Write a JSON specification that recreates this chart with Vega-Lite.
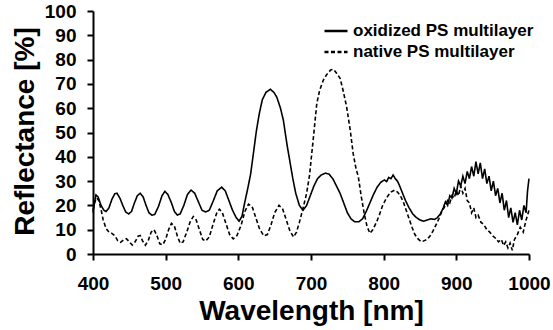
{
  "$schema": "https://vega.github.io/schema/vega-lite/v6.json",
  "width": 436,
  "height": 243,
  "autosize": "none",
  "padding": {"left": 93, "top": 11, "right": 24, "bottom": 76},
  "background": "white",
  "config": {
    "view": {"stroke": null},
    "font": "Liberation Sans",
    "axis": {
      "grid": false,
      "domainColor": "#000",
      "domainWidth": 2,
      "tickColor": "#000",
      "tickWidth": 2,
      "tickSize": 6,
      "labelFont": "Liberation Sans",
      "labelFontWeight": "bold",
      "labelFontSize": 19,
      "labelColor": "#000",
      "titleFont": "Liberation Sans",
      "titleFontWeight": "bold",
      "titleFontSize": 28,
      "titleColor": "#000"
    }
  },
  "datasets": {
    "spectra": [
      {"wl": 400, "r": 17, "s": "oxidized PS multilayer"},
      {"wl": 402, "r": 21, "s": "oxidized PS multilayer"},
      {"wl": 404, "r": 24.3, "s": "oxidized PS multilayer"},
      {"wl": 407, "r": 23.5, "s": "oxidized PS multilayer"},
      {"wl": 411, "r": 20, "s": "oxidized PS multilayer"},
      {"wl": 415, "r": 18, "s": "oxidized PS multilayer"},
      {"wl": 418, "r": 17.5, "s": "oxidized PS multilayer"},
      {"wl": 422, "r": 19, "s": "oxidized PS multilayer"},
      {"wl": 426, "r": 22.5, "s": "oxidized PS multilayer"},
      {"wl": 430, "r": 24.8, "s": "oxidized PS multilayer"},
      {"wl": 433, "r": 25, "s": "oxidized PS multilayer"},
      {"wl": 437, "r": 23, "s": "oxidized PS multilayer"},
      {"wl": 441, "r": 20, "s": "oxidized PS multilayer"},
      {"wl": 445, "r": 17.3, "s": "oxidized PS multilayer"},
      {"wl": 449, "r": 16.5, "s": "oxidized PS multilayer"},
      {"wl": 453, "r": 17.5, "s": "oxidized PS multilayer"},
      {"wl": 457, "r": 21, "s": "oxidized PS multilayer"},
      {"wl": 461, "r": 24, "s": "oxidized PS multilayer"},
      {"wl": 465, "r": 25, "s": "oxidized PS multilayer"},
      {"wl": 469, "r": 23.5, "s": "oxidized PS multilayer"},
      {"wl": 473, "r": 20, "s": "oxidized PS multilayer"},
      {"wl": 477, "r": 17, "s": "oxidized PS multilayer"},
      {"wl": 481, "r": 16, "s": "oxidized PS multilayer"},
      {"wl": 485, "r": 16.3, "s": "oxidized PS multilayer"},
      {"wl": 490, "r": 19.5, "s": "oxidized PS multilayer"},
      {"wl": 495, "r": 24, "s": "oxidized PS multilayer"},
      {"wl": 499, "r": 25.8, "s": "oxidized PS multilayer"},
      {"wl": 503, "r": 24.5, "s": "oxidized PS multilayer"},
      {"wl": 508, "r": 21, "s": "oxidized PS multilayer"},
      {"wl": 512, "r": 17.5, "s": "oxidized PS multilayer"},
      {"wl": 516, "r": 16, "s": "oxidized PS multilayer"},
      {"wl": 520, "r": 16.5, "s": "oxidized PS multilayer"},
      {"wl": 525, "r": 20, "s": "oxidized PS multilayer"},
      {"wl": 530, "r": 24.5, "s": "oxidized PS multilayer"},
      {"wl": 535, "r": 26.3, "s": "oxidized PS multilayer"},
      {"wl": 540, "r": 25, "s": "oxidized PS multilayer"},
      {"wl": 545, "r": 21.5, "s": "oxidized PS multilayer"},
      {"wl": 550, "r": 18, "s": "oxidized PS multilayer"},
      {"wl": 555, "r": 17.3, "s": "oxidized PS multilayer"},
      {"wl": 560, "r": 18, "s": "oxidized PS multilayer"},
      {"wl": 565, "r": 21.5, "s": "oxidized PS multilayer"},
      {"wl": 571, "r": 26, "s": "oxidized PS multilayer"},
      {"wl": 577, "r": 27.5, "s": "oxidized PS multilayer"},
      {"wl": 582, "r": 26, "s": "oxidized PS multilayer"},
      {"wl": 587, "r": 22, "s": "oxidized PS multilayer"},
      {"wl": 592, "r": 18, "s": "oxidized PS multilayer"},
      {"wl": 597, "r": 15, "s": "oxidized PS multilayer"},
      {"wl": 601, "r": 13.5, "s": "oxidized PS multilayer"},
      {"wl": 605, "r": 15.5, "s": "oxidized PS multilayer"},
      {"wl": 609, "r": 21.5, "s": "oxidized PS multilayer"},
      {"wl": 613, "r": 27, "s": "oxidized PS multilayer"},
      {"wl": 617, "r": 33, "s": "oxidized PS multilayer"},
      {"wl": 621, "r": 42, "s": "oxidized PS multilayer"},
      {"wl": 625, "r": 51, "s": "oxidized PS multilayer"},
      {"wl": 629, "r": 58, "s": "oxidized PS multilayer"},
      {"wl": 633, "r": 63.5, "s": "oxidized PS multilayer"},
      {"wl": 638, "r": 66.5, "s": "oxidized PS multilayer"},
      {"wl": 644, "r": 67.8, "s": "oxidized PS multilayer"},
      {"wl": 649, "r": 66.5, "s": "oxidized PS multilayer"},
      {"wl": 653, "r": 64.5, "s": "oxidized PS multilayer"},
      {"wl": 658, "r": 60, "s": "oxidized PS multilayer"},
      {"wl": 662, "r": 55, "s": "oxidized PS multilayer"},
      {"wl": 667, "r": 45, "s": "oxidized PS multilayer"},
      {"wl": 671, "r": 38, "s": "oxidized PS multilayer"},
      {"wl": 675, "r": 31, "s": "oxidized PS multilayer"},
      {"wl": 679, "r": 25, "s": "oxidized PS multilayer"},
      {"wl": 684, "r": 20, "s": "oxidized PS multilayer"},
      {"wl": 689, "r": 18, "s": "oxidized PS multilayer"},
      {"wl": 694, "r": 20, "s": "oxidized PS multilayer"},
      {"wl": 699, "r": 24, "s": "oxidized PS multilayer"},
      {"wl": 704, "r": 28, "s": "oxidized PS multilayer"},
      {"wl": 709, "r": 31, "s": "oxidized PS multilayer"},
      {"wl": 714, "r": 32.5, "s": "oxidized PS multilayer"},
      {"wl": 720, "r": 33.3, "s": "oxidized PS multilayer"},
      {"wl": 725, "r": 32.8, "s": "oxidized PS multilayer"},
      {"wl": 730, "r": 31, "s": "oxidized PS multilayer"},
      {"wl": 735, "r": 28, "s": "oxidized PS multilayer"},
      {"wl": 740, "r": 25, "s": "oxidized PS multilayer"},
      {"wl": 745, "r": 21, "s": "oxidized PS multilayer"},
      {"wl": 750, "r": 17, "s": "oxidized PS multilayer"},
      {"wl": 755, "r": 14.5, "s": "oxidized PS multilayer"},
      {"wl": 760, "r": 13.3, "s": "oxidized PS multilayer"},
      {"wl": 766, "r": 13.3, "s": "oxidized PS multilayer"},
      {"wl": 771, "r": 14.5, "s": "oxidized PS multilayer"},
      {"wl": 776, "r": 17.5, "s": "oxidized PS multilayer"},
      {"wl": 781, "r": 21, "s": "oxidized PS multilayer"},
      {"wl": 786, "r": 24.5, "s": "oxidized PS multilayer"},
      {"wl": 791, "r": 27.5, "s": "oxidized PS multilayer"},
      {"wl": 796, "r": 29.5, "s": "oxidized PS multilayer"},
      {"wl": 801, "r": 30.5, "s": "oxidized PS multilayer"},
      {"wl": 804, "r": 29.8, "s": "oxidized PS multilayer"},
      {"wl": 807, "r": 31.5, "s": "oxidized PS multilayer"},
      {"wl": 810, "r": 31, "s": "oxidized PS multilayer"},
      {"wl": 813, "r": 32.5, "s": "oxidized PS multilayer"},
      {"wl": 816, "r": 31, "s": "oxidized PS multilayer"},
      {"wl": 819, "r": 30, "s": "oxidized PS multilayer"},
      {"wl": 822, "r": 28, "s": "oxidized PS multilayer"},
      {"wl": 826, "r": 25, "s": "oxidized PS multilayer"},
      {"wl": 830, "r": 22, "s": "oxidized PS multilayer"},
      {"wl": 835, "r": 19, "s": "oxidized PS multilayer"},
      {"wl": 840, "r": 16.5, "s": "oxidized PS multilayer"},
      {"wl": 845, "r": 15, "s": "oxidized PS multilayer"},
      {"wl": 850, "r": 14, "s": "oxidized PS multilayer"},
      {"wl": 855, "r": 13.5, "s": "oxidized PS multilayer"},
      {"wl": 860, "r": 14, "s": "oxidized PS multilayer"},
      {"wl": 865, "r": 14.5, "s": "oxidized PS multilayer"},
      {"wl": 870, "r": 14.2, "s": "oxidized PS multilayer"},
      {"wl": 874, "r": 15, "s": "oxidized PS multilayer"},
      {"wl": 878, "r": 16.5, "s": "oxidized PS multilayer"},
      {"wl": 882, "r": 19, "s": "oxidized PS multilayer"},
      {"wl": 885, "r": 21.5, "s": "oxidized PS multilayer"},
      {"wl": 888, "r": 20, "s": "oxidized PS multilayer"},
      {"wl": 891, "r": 24, "s": "oxidized PS multilayer"},
      {"wl": 894, "r": 23, "s": "oxidized PS multilayer"},
      {"wl": 897, "r": 27, "s": "oxidized PS multilayer"},
      {"wl": 900, "r": 25, "s": "oxidized PS multilayer"},
      {"wl": 903, "r": 30, "s": "oxidized PS multilayer"},
      {"wl": 906, "r": 28, "s": "oxidized PS multilayer"},
      {"wl": 909, "r": 32, "s": "oxidized PS multilayer"},
      {"wl": 912, "r": 29, "s": "oxidized PS multilayer"},
      {"wl": 915, "r": 34, "s": "oxidized PS multilayer"},
      {"wl": 918, "r": 31, "s": "oxidized PS multilayer"},
      {"wl": 921, "r": 36, "s": "oxidized PS multilayer"},
      {"wl": 924, "r": 32, "s": "oxidized PS multilayer"},
      {"wl": 927, "r": 38, "s": "oxidized PS multilayer"},
      {"wl": 930, "r": 33, "s": "oxidized PS multilayer"},
      {"wl": 933, "r": 37.5, "s": "oxidized PS multilayer"},
      {"wl": 936, "r": 31, "s": "oxidized PS multilayer"},
      {"wl": 939, "r": 35, "s": "oxidized PS multilayer"},
      {"wl": 942, "r": 29, "s": "oxidized PS multilayer"},
      {"wl": 945, "r": 32, "s": "oxidized PS multilayer"},
      {"wl": 948, "r": 26, "s": "oxidized PS multilayer"},
      {"wl": 951, "r": 30, "s": "oxidized PS multilayer"},
      {"wl": 954, "r": 24, "s": "oxidized PS multilayer"},
      {"wl": 957, "r": 27, "s": "oxidized PS multilayer"},
      {"wl": 960, "r": 21, "s": "oxidized PS multilayer"},
      {"wl": 963, "r": 25, "s": "oxidized PS multilayer"},
      {"wl": 966, "r": 18, "s": "oxidized PS multilayer"},
      {"wl": 969, "r": 22, "s": "oxidized PS multilayer"},
      {"wl": 972, "r": 15, "s": "oxidized PS multilayer"},
      {"wl": 975, "r": 19, "s": "oxidized PS multilayer"},
      {"wl": 978, "r": 13, "s": "oxidized PS multilayer"},
      {"wl": 981, "r": 17, "s": "oxidized PS multilayer"},
      {"wl": 984, "r": 12, "s": "oxidized PS multilayer"},
      {"wl": 987, "r": 18, "s": "oxidized PS multilayer"},
      {"wl": 990, "r": 14, "s": "oxidized PS multilayer"},
      {"wl": 993, "r": 20, "s": "oxidized PS multilayer"},
      {"wl": 996, "r": 17, "s": "oxidized PS multilayer"},
      {"wl": 998, "r": 26, "s": "oxidized PS multilayer"},
      {"wl": 1000, "r": 31, "s": "oxidized PS multilayer"},

      {"wl": 400, "r": 18, "s": "native PS multilayer"},
      {"wl": 402, "r": 21, "s": "native PS multilayer"},
      {"wl": 405, "r": 23, "s": "native PS multilayer"},
      {"wl": 408, "r": 22, "s": "native PS multilayer"},
      {"wl": 411, "r": 18.5, "s": "native PS multilayer"},
      {"wl": 414, "r": 14, "s": "native PS multilayer"},
      {"wl": 418, "r": 10.5, "s": "native PS multilayer"},
      {"wl": 422, "r": 9, "s": "native PS multilayer"},
      {"wl": 426, "r": 8.5, "s": "native PS multilayer"},
      {"wl": 430, "r": 7.5, "s": "native PS multilayer"},
      {"wl": 434, "r": 5.5, "s": "native PS multilayer"},
      {"wl": 438, "r": 4.8, "s": "native PS multilayer"},
      {"wl": 442, "r": 5.8, "s": "native PS multilayer"},
      {"wl": 446, "r": 6.3, "s": "native PS multilayer"},
      {"wl": 450, "r": 5, "s": "native PS multilayer"},
      {"wl": 454, "r": 3.7, "s": "native PS multilayer"},
      {"wl": 458, "r": 5, "s": "native PS multilayer"},
      {"wl": 462, "r": 7.3, "s": "native PS multilayer"},
      {"wl": 465, "r": 7.6, "s": "native PS multilayer"},
      {"wl": 468, "r": 5.5, "s": "native PS multilayer"},
      {"wl": 472, "r": 3.6, "s": "native PS multilayer"},
      {"wl": 476, "r": 5.5, "s": "native PS multilayer"},
      {"wl": 480, "r": 9, "s": "native PS multilayer"},
      {"wl": 484, "r": 10, "s": "native PS multilayer"},
      {"wl": 488, "r": 7.5, "s": "native PS multilayer"},
      {"wl": 492, "r": 4.2, "s": "native PS multilayer"},
      {"wl": 496, "r": 3.8, "s": "native PS multilayer"},
      {"wl": 500, "r": 6, "s": "native PS multilayer"},
      {"wl": 504, "r": 10, "s": "native PS multilayer"},
      {"wl": 508, "r": 12.6, "s": "native PS multilayer"},
      {"wl": 512, "r": 11.5, "s": "native PS multilayer"},
      {"wl": 516, "r": 7.5, "s": "native PS multilayer"},
      {"wl": 520, "r": 4.4, "s": "native PS multilayer"},
      {"wl": 524, "r": 5, "s": "native PS multilayer"},
      {"wl": 529, "r": 9, "s": "native PS multilayer"},
      {"wl": 534, "r": 13.5, "s": "native PS multilayer"},
      {"wl": 538, "r": 15.4, "s": "native PS multilayer"},
      {"wl": 542, "r": 14, "s": "native PS multilayer"},
      {"wl": 547, "r": 9.5, "s": "native PS multilayer"},
      {"wl": 551, "r": 6, "s": "native PS multilayer"},
      {"wl": 555, "r": 5.3, "s": "native PS multilayer"},
      {"wl": 560, "r": 7, "s": "native PS multilayer"},
      {"wl": 566, "r": 13, "s": "native PS multilayer"},
      {"wl": 571, "r": 17.5, "s": "native PS multilayer"},
      {"wl": 574, "r": 18.4, "s": "native PS multilayer"},
      {"wl": 578, "r": 17, "s": "native PS multilayer"},
      {"wl": 583, "r": 12.5, "s": "native PS multilayer"},
      {"wl": 588, "r": 8, "s": "native PS multilayer"},
      {"wl": 593, "r": 6.2, "s": "native PS multilayer"},
      {"wl": 598, "r": 7.5, "s": "native PS multilayer"},
      {"wl": 604, "r": 12, "s": "native PS multilayer"},
      {"wl": 609, "r": 17.5, "s": "native PS multilayer"},
      {"wl": 614, "r": 20.5, "s": "native PS multilayer"},
      {"wl": 619, "r": 19.5, "s": "native PS multilayer"},
      {"wl": 624, "r": 15, "s": "native PS multilayer"},
      {"wl": 629, "r": 10.5, "s": "native PS multilayer"},
      {"wl": 635, "r": 7.5, "s": "native PS multilayer"},
      {"wl": 640, "r": 8, "s": "native PS multilayer"},
      {"wl": 645, "r": 12, "s": "native PS multilayer"},
      {"wl": 650, "r": 17, "s": "native PS multilayer"},
      {"wl": 656, "r": 20, "s": "native PS multilayer"},
      {"wl": 661, "r": 18.5, "s": "native PS multilayer"},
      {"wl": 666, "r": 14, "s": "native PS multilayer"},
      {"wl": 671, "r": 9.5, "s": "native PS multilayer"},
      {"wl": 676, "r": 7, "s": "native PS multilayer"},
      {"wl": 680, "r": 9, "s": "native PS multilayer"},
      {"wl": 684, "r": 13, "s": "native PS multilayer"},
      {"wl": 689, "r": 18.8, "s": "native PS multilayer"},
      {"wl": 694, "r": 25, "s": "native PS multilayer"},
      {"wl": 698, "r": 32.5, "s": "native PS multilayer"},
      {"wl": 703, "r": 47, "s": "native PS multilayer"},
      {"wl": 708, "r": 62, "s": "native PS multilayer"},
      {"wl": 712, "r": 67.5, "s": "native PS multilayer"},
      {"wl": 717, "r": 71.6, "s": "native PS multilayer"},
      {"wl": 722, "r": 74, "s": "native PS multilayer"},
      {"wl": 727, "r": 75.7, "s": "native PS multilayer"},
      {"wl": 731, "r": 76, "s": "native PS multilayer"},
      {"wl": 735, "r": 74.5, "s": "native PS multilayer"},
      {"wl": 740, "r": 72.3, "s": "native PS multilayer"},
      {"wl": 744, "r": 67.5, "s": "native PS multilayer"},
      {"wl": 749, "r": 60.6, "s": "native PS multilayer"},
      {"wl": 754, "r": 51, "s": "native PS multilayer"},
      {"wl": 758, "r": 41.4, "s": "native PS multilayer"},
      {"wl": 762, "r": 35, "s": "native PS multilayer"},
      {"wl": 765, "r": 32, "s": "native PS multilayer"},
      {"wl": 769, "r": 24, "s": "native PS multilayer"},
      {"wl": 773, "r": 17, "s": "native PS multilayer"},
      {"wl": 777, "r": 11.5, "s": "native PS multilayer"},
      {"wl": 781, "r": 8.5, "s": "native PS multilayer"},
      {"wl": 785, "r": 10, "s": "native PS multilayer"},
      {"wl": 790, "r": 13, "s": "native PS multilayer"},
      {"wl": 794, "r": 16, "s": "native PS multilayer"},
      {"wl": 798, "r": 19.5, "s": "native PS multilayer"},
      {"wl": 802, "r": 22, "s": "native PS multilayer"},
      {"wl": 806, "r": 24, "s": "native PS multilayer"},
      {"wl": 810, "r": 25.5, "s": "native PS multilayer"},
      {"wl": 815, "r": 26.3, "s": "native PS multilayer"},
      {"wl": 819, "r": 25.5, "s": "native PS multilayer"},
      {"wl": 823, "r": 24, "s": "native PS multilayer"},
      {"wl": 827, "r": 21.5, "s": "native PS multilayer"},
      {"wl": 831, "r": 18, "s": "native PS multilayer"},
      {"wl": 835, "r": 14.5, "s": "native PS multilayer"},
      {"wl": 839, "r": 11, "s": "native PS multilayer"},
      {"wl": 843, "r": 8, "s": "native PS multilayer"},
      {"wl": 847, "r": 6.3, "s": "native PS multilayer"},
      {"wl": 852, "r": 5, "s": "native PS multilayer"},
      {"wl": 856, "r": 5.5, "s": "native PS multilayer"},
      {"wl": 860, "r": 6, "s": "native PS multilayer"},
      {"wl": 864, "r": 7.5, "s": "native PS multilayer"},
      {"wl": 868, "r": 9.5, "s": "native PS multilayer"},
      {"wl": 872, "r": 12, "s": "native PS multilayer"},
      {"wl": 876, "r": 14.5, "s": "native PS multilayer"},
      {"wl": 880, "r": 17.5, "s": "native PS multilayer"},
      {"wl": 885, "r": 20, "s": "native PS multilayer"},
      {"wl": 888, "r": 22, "s": "native PS multilayer"},
      {"wl": 891, "r": 21, "s": "native PS multilayer"},
      {"wl": 894, "r": 24, "s": "native PS multilayer"},
      {"wl": 897, "r": 23, "s": "native PS multilayer"},
      {"wl": 900, "r": 26, "s": "native PS multilayer"},
      {"wl": 903, "r": 24, "s": "native PS multilayer"},
      {"wl": 906, "r": 28, "s": "native PS multilayer"},
      {"wl": 909, "r": 25, "s": "native PS multilayer"},
      {"wl": 912, "r": 27, "s": "native PS multilayer"},
      {"wl": 915, "r": 22, "s": "native PS multilayer"},
      {"wl": 918, "r": 21, "s": "native PS multilayer"},
      {"wl": 921, "r": 17, "s": "native PS multilayer"},
      {"wl": 924, "r": 19, "s": "native PS multilayer"},
      {"wl": 927, "r": 15, "s": "native PS multilayer"},
      {"wl": 930, "r": 16, "s": "native PS multilayer"},
      {"wl": 934, "r": 13, "s": "native PS multilayer"},
      {"wl": 938, "r": 12, "s": "native PS multilayer"},
      {"wl": 942, "r": 10, "s": "native PS multilayer"},
      {"wl": 946, "r": 9, "s": "native PS multilayer"},
      {"wl": 950, "r": 7.5, "s": "native PS multilayer"},
      {"wl": 954, "r": 6.5, "s": "native PS multilayer"},
      {"wl": 958, "r": 5, "s": "native PS multilayer"},
      {"wl": 962, "r": 6, "s": "native PS multilayer"},
      {"wl": 965, "r": 3.5, "s": "native PS multilayer"},
      {"wl": 968, "r": 5, "s": "native PS multilayer"},
      {"wl": 971, "r": 2.5, "s": "native PS multilayer"},
      {"wl": 974, "r": 4.5, "s": "native PS multilayer"},
      {"wl": 977, "r": 1.5, "s": "native PS multilayer"},
      {"wl": 980, "r": 6, "s": "native PS multilayer"},
      {"wl": 984, "r": 8, "s": "native PS multilayer"},
      {"wl": 988, "r": 11, "s": "native PS multilayer"},
      {"wl": 992, "r": 9, "s": "native PS multilayer"},
      {"wl": 996, "r": 14, "s": "native PS multilayer"},
      {"wl": 1000, "r": 18, "s": "native PS multilayer"}
    ]
  },
  "data": {"name": "spectra"},
  "mark": {"type": "line", "color": "#000", "strokeWidth": 1.6},
  "encoding": {
    "x": {
      "field": "wl",
      "type": "quantitative",
      "scale": {"domain": [400, 1000], "nice": false},
      "axis": {
        "title": "Wavelength [nm]",
        "values": [400, 500, 600, 700, 800, 900, 1000],
        "format": "d",
        "labelFlush": false,
        "labelOverlap": false,
        "labelPadding": 14,
        "titleBaseline": "alphabetic",
        "titleY": 65
      }
    },
    "y": {
      "field": "r",
      "type": "quantitative",
      "scale": {"domain": [0, 100], "nice": false},
      "axis": {
        "title": "Reflectance [%]",
        "values": [0, 10, 20, 30, 40, 50, 60, 70, 80, 90, 100],
        "format": "d",
        "labelPadding": 11,
        "titleAngle": 270,
        "titleBaseline": "alphabetic",
        "titleX": -60,
        "titleY": 120
      }
    },
    "strokeDash": {
      "field": "s",
      "type": "nominal",
      "scale": {
        "domain": ["oxidized PS multilayer", "native PS multilayer"],
        "range": [[1, 0], [4, 2.5]]
      },
      "legend": {
        "title": null,
        "orient": "none",
        "legendX": 230,
        "legendY": 7,
        "padding": 0,
        "symbolType": "stroke",
        "symbolSize": 529,
        "symbolStrokeWidth": 2.5,
        "symbolStrokeColor": "#000",
        "labelFont": "Liberation Sans",
        "labelFontWeight": "bold",
        "labelFontSize": 17,
        "labelColor": "#000",
        "labelOffset": 4,
        "labelLimit": 0,
        "rowPadding": 0
      }
    }
  }
}
